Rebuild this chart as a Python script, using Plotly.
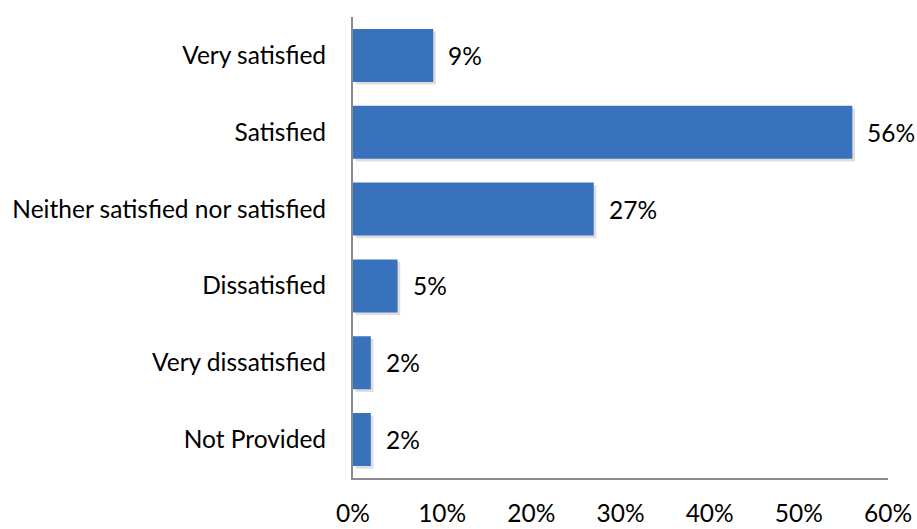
import plotly.graph_objects as go

categories = ["Very satisfied", "Satisfied", "Neither satisfied nor satisfied",
              "Dissatisfied", "Very dissatisfied", "Not Provided"]
values = [9, 56, 27, 5, 2, 2]
labels = ["9%", "56%", "27%", "5%", "2%", "2%"]
x_ticks = [0, 10, 20, 30, 40, 50, 60]
x_tick_labels = ["0%", "10%", "20%", "30%", "40%", "50%", "60%"]

FONT = "Lato, Carlito, Calibri, sans-serif"
FS = 24.5

fig = go.Figure()
# soft shadow (below/right of each bar)
fig.add_trace(go.Bar(
    y=categories, x=values, orientation="h", base=0.3,
    marker=dict(color="rgba(0,0,0,0.13)", line=dict(width=0)),
    width=0.69, offset=-0.38, hoverinfo="skip", showlegend=False,
))
fig.add_trace(go.Bar(
    y=categories, x=values, orientation="h",
    marker=dict(color="#3872bc", line=dict(width=0)),
    width=0.69, offset=-0.345, showlegend=False,
))

for c, v, t in zip(categories, values, labels):
    fig.add_annotation(x=v, y=c, text=t, showarrow=False, xanchor="left",
                       xshift=13, font=dict(family=FONT, size=FS, color="#000"))

fig.update_layout(
    width=917, height=529,
    margin=dict(l=353, r=29, t=17, b=51, autoexpand=False),
    paper_bgcolor="white", plot_bgcolor="white",
    barmode="overlay",
    font=dict(family=FONT, size=FS, color="#000"),
    xaxis=dict(range=[0, 60], tickvals=x_ticks, ticktext=x_tick_labels,
               showgrid=False, zeroline=False, showline=True,
               linecolor="#8c8c8c", linewidth=2, ticks="",
               ticklabelstandoff=13, automargin=False, fixedrange=True),
    yaxis=dict(categoryorder="array", categoryarray=categories[::-1],
               showgrid=False, zeroline=False, showline=True,
               linecolor="#8c8c8c", linewidth=2, ticks="",
               ticklabelstandoff=20, automargin=False, fixedrange=True),
)

fig.write_html("out.html", config={"displayModeBar": False},
               post_script="document.body.style.margin='0';document.body.style.overflow='hidden';")
